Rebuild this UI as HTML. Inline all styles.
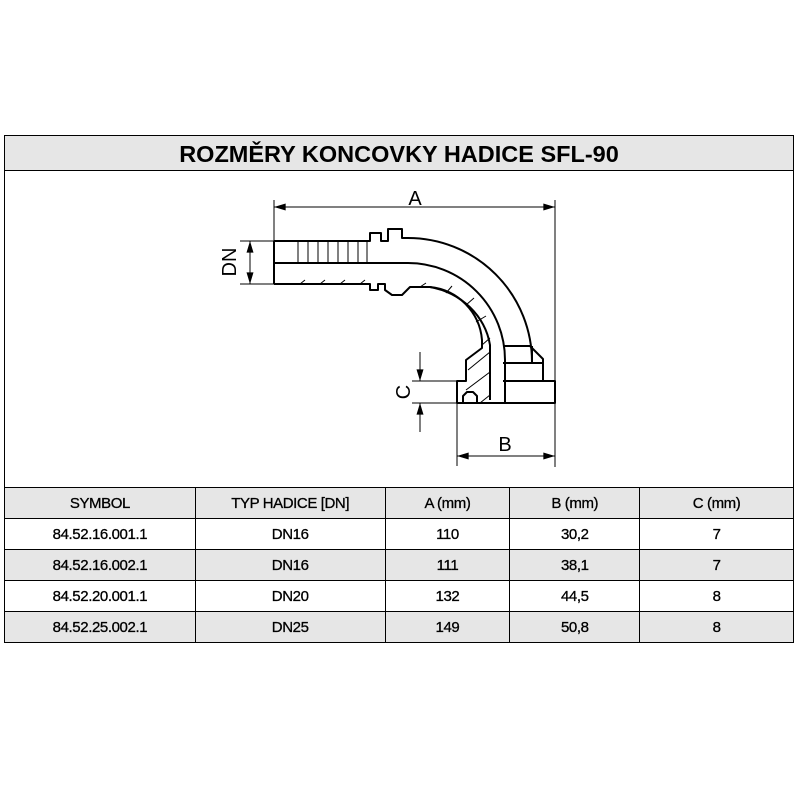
<!DOCTYPE html>
<html><head><meta charset="utf-8"><style>
body{margin:0;background:#fff;width:800px;height:800px;position:relative;font-family:"Liberation Sans",Arial,sans-serif;}
.box{position:absolute;left:4px;top:135px;width:790px;height:508px;border:1px solid #000;box-sizing:border-box;}
.title{position:absolute;left:0;top:0;width:788px;height:34px;background:#e6e6e6;border-bottom:1px solid #000;text-align:center;font-weight:bold;font-size:23.5px;line-height:37px;}
table{position:absolute;left:-1px;top:351px;border-collapse:collapse;width:790px;font-size:15px;letter-spacing:-0.4px;}
td{border:1px solid #000;text-align:center;height:30px;padding:0;-webkit-text-stroke:0.3px #000;}
tr.g td{background:#e6e6e6;}
svg{position:absolute;left:0;top:0;}
</style></head><body>
<div class="box">
<div class="title">ROZMĚRY KONCOVKY HADICE SFL-90</div>
<table>
<colgroup><col style="width:191px"><col style="width:190px"><col style="width:125px"><col style="width:130px"><col style="width:154px"></colgroup>
<tr class="g"><td>SYMBOL</td><td>TYP HADICE [DN]</td><td>A (mm)</td><td>B (mm)</td><td>C (mm)</td></tr>
<tr><td>84.52.16.001.1</td><td>DN16</td><td>110</td><td>30,2</td><td>7</td></tr>
<tr class="g"><td>84.52.16.002.1</td><td>DN16</td><td>111</td><td>38,1</td><td>7</td></tr>
<tr><td>84.52.20.001.1</td><td>DN20</td><td>132</td><td>44,5</td><td>8</td></tr>
<tr class="g"><td>84.52.25.002.1</td><td>DN25</td><td>149</td><td>50,8</td><td>8</td></tr>
</table>
</div>
<svg width="800" height="800" viewBox="0 0 800 800" fill="none" stroke="#000">
<defs><marker id="ar" viewBox="0 0 10 6" refX="10" refY="3" markerWidth="16" markerHeight="7" markerUnits="userSpaceOnUse" orient="auto-start-reverse"><path d="M0,0L10,3L0,6z" fill="#000" stroke="none"/></marker></defs>
<g stroke-width="1">
<line x1="274" y1="200" x2="274" y2="284"/>
<line x1="555" y1="200" x2="555" y2="467"/>
<line x1="274" y1="207" x2="555" y2="207" marker-start="url(#ar)" marker-end="url(#ar)"/>
<line x1="240" y1="241" x2="274" y2="241"/>
<line x1="240" y1="284" x2="274" y2="284"/>
<line x1="250" y1="241" x2="250" y2="284" marker-start="url(#ar)" marker-end="url(#ar)"/>
<line x1="412" y1="381" x2="457" y2="381"/>
<line x1="412" y1="403" x2="457" y2="403"/>
<line x1="420" y1="352" x2="420" y2="381" marker-end="url(#ar)"/>
<line x1="420" y1="432" x2="420" y2="403" marker-end="url(#ar)"/>
<line x1="457" y1="403" x2="457" y2="466"/>
<line x1="457" y1="456" x2="555" y2="456" marker-start="url(#ar)" marker-end="url(#ar)"/>
</g>
<g stroke-width="2" stroke-linejoin="round">
<path d="M274,241 H370 V233 H381 V241 H388 V229 H402 V238 H408 A124,124 0 0 1 532,362 V346"/>
<line x1="274" y1="241" x2="274" y2="284"/>
<path d="M274,263 H408 A97,97 0 0 1 505,360 V403"/>
<path d="M274,284 H370 V290 H378 V284 H385 V290 L392,295 H402 L410,287 H430 A58,58 0 0 1 482,340 V348 L466,360 V381 H457 V403 H555 V381 H543 V359 L530,346 H503"/>
<path d="M430,287 A75,70 0 0 1 490,345 V400"/>
<line x1="503" y1="363" x2="543" y2="363"/>
<line x1="503" y1="381" x2="543" y2="381"/>
<path d="M463,403 V396 L467,392 H473 L477,396 V403"/>
</g>
<g stroke-width="1">
<line x1="298" y1="241" x2="298" y2="263"/><line x1="308" y1="241" x2="308" y2="263"/><line x1="318" y1="241" x2="318" y2="263"/><line x1="328" y1="241" x2="328" y2="263"/><line x1="338" y1="241" x2="338" y2="263"/><line x1="348" y1="241" x2="348" y2="263"/><line x1="358" y1="241" x2="358" y2="263"/><line x1="367" y1="241" x2="367" y2="263"/>
<path d="M300,284 L305,280 M320,284 L325,280 M340,284 L345,280 M360,284 L365,280 M420,287 L426,283 M446,293 L452,286 M466,305 L474,298 M476,322 L486,316 M482,345 L490,338 M468,370 L490,352 M466,390 L490,372 M480,403 L490,395"/>
</g>
<g fill="#000" stroke="none" font-size="20">
<text x="415" y="205" text-anchor="middle">A</text>
<text x="505" y="451" text-anchor="middle">B</text>
<text transform="translate(236,262) rotate(-90)" text-anchor="middle">DN</text>
<text transform="translate(410,392) rotate(-90)" text-anchor="middle">C</text>
</g>
</svg>
</body></html>
